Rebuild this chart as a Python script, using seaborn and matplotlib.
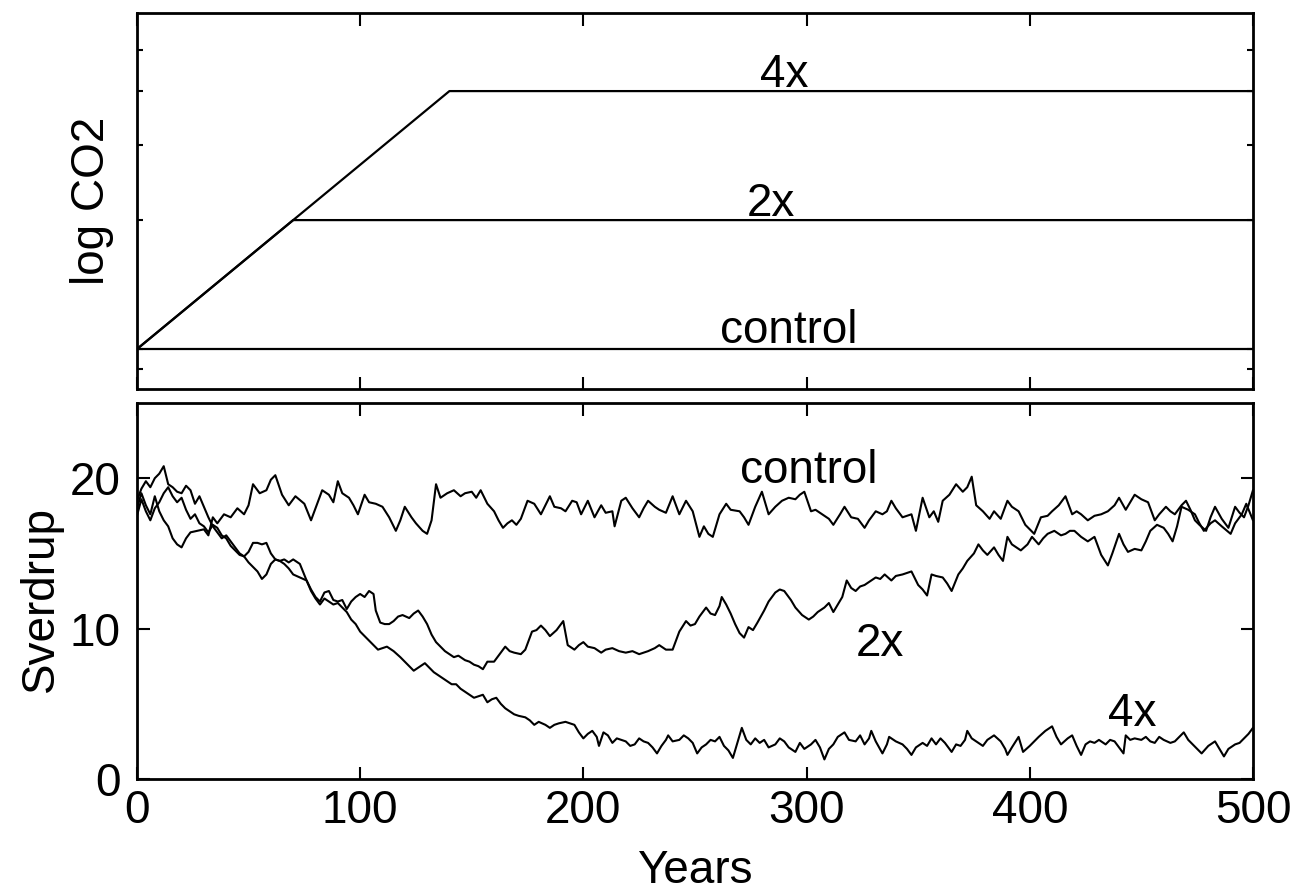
import matplotlib
matplotlib.use("Agg")
import matplotlib.pyplot as plt
import seaborn as sns
import pandas as pd
from matplotlib.ticker import FixedLocator, NullFormatter

# ---------------- data ----------------
# top panel: CO2 scenarios (relative to control), log scale
co2_ctrl_years = [0, 500]
co2_ctrl = [1, 1]
co2_2x_years = [0, 70, 500]
co2_2x = [1, 2, 2]
co2_4x_years = [0, 140, 500]
co2_4x = [1, 4, 4]

# bottom panel: overturning (Sverdrup)
ctrl_years = [0, 2, 4, 6, 8, 10, 12, 14, 16, 18, 20, 22, 24, 27, 30, 32, 34, 36, 39, 42, 45, 48, 50, 52, 55, 58,
              60, 62, 65, 68, 71, 75, 78, 80, 83, 86, 88, 90, 92, 95, 97, 99, 102, 104, 107, 110, 113, 116, 118,
              120, 123, 125, 128, 130, 132, 134, 136, 139, 142, 145, 147, 150, 152, 154, 157, 160, 162, 164, 166,
              168, 170, 172, 175, 178, 181, 183, 185, 187, 190, 192, 195, 197, 199, 202, 205, 208, 210, 213, 214,
              217, 219, 222, 225, 227, 229, 232, 234, 237, 240, 243, 246, 249, 252, 254, 256, 258, 261, 264, 266,
              270, 272, 274, 277, 280, 283, 286, 289, 292, 295, 297, 299, 302, 304, 307, 310, 312, 315, 317, 320,
              323, 326, 328, 331, 334, 336, 338, 340, 343, 345, 347, 349, 352, 355, 357, 359, 361, 364, 367, 370,
              372, 374, 376, 379, 382, 384, 387, 390, 392, 395, 398, 402, 405, 408, 410, 413, 416, 419, 421, 423,
              426, 429, 432, 435, 438, 440, 443, 445, 447, 450, 453, 456, 458, 461, 463, 465, 468, 470, 472, 474,
              476, 479, 481, 483, 486, 489, 492, 494, 496, 498, 500]
ctrl_sv = [18.0, 19.0, 18.2, 17.6, 18.8, 17.8, 17.2, 16.8, 16.0, 15.6, 15.4, 16.0, 16.4, 16.5, 16.6, 16.2, 17.4,
           17.0, 17.6, 17.4, 18.0, 17.6, 18.2, 19.6, 19.0, 19.2, 19.9, 20.2, 18.9, 18.2, 18.8, 18.3, 17.2, 18.0,
           19.2, 18.9, 18.4, 19.8, 19.0, 18.7, 18.2, 17.6, 18.9, 18.4, 18.3, 18.1, 17.4, 16.5, 17.2, 18.1, 17.4,
           17.0, 16.5, 16.3, 17.2, 19.6, 18.7, 19.0, 19.2, 18.8, 19.0, 19.1, 18.7, 19.2, 18.3, 17.8, 17.2, 16.7,
           17.0, 17.2, 16.9, 17.3, 18.5, 18.3, 17.6, 18.2, 18.8, 18.1, 18.0, 17.8, 18.5, 18.4, 17.6, 18.5, 17.4,
           18.2, 17.7, 17.8, 16.8, 18.5, 18.7, 18.0, 17.4, 18.0, 18.5, 18.1, 17.9, 17.7, 18.8, 17.6, 18.5, 17.8,
           16.1, 16.8, 16.3, 16.1, 17.6, 18.3, 17.9, 17.8, 17.4, 16.9, 18.1, 19.1, 17.6, 18.1, 18.5, 18.7, 18.6,
           18.9, 19.1, 17.8, 17.9, 17.6, 17.3, 16.9, 17.6, 18.1, 17.4, 17.3, 16.7, 17.2, 17.8, 17.6, 17.8, 18.5,
           18.0, 17.4, 17.5, 17.6, 16.5, 18.7, 17.4, 17.8, 17.1, 18.5, 18.9, 19.6, 19.1, 19.4, 20.1, 18.2, 17.8,
           17.3, 17.8, 17.3, 18.5, 18.1, 17.8, 16.9, 16.3, 17.4, 17.5, 17.8, 18.2, 18.8, 17.6, 17.8, 17.6, 17.2,
           17.5, 17.6, 17.8, 18.2, 18.7, 17.9, 18.4, 18.9, 18.6, 18.4, 17.2, 17.6, 18.1, 17.8, 17.6, 18.2, 18.5,
           17.9, 17.2, 16.9, 16.5, 17.4, 18.1, 17.3, 16.7, 18.1, 17.7, 17.4, 18.2, 19.2]

x2_years = [0, 2, 4, 6, 8, 10, 12, 14, 16, 18, 20, 22, 24, 26, 28, 30, 32, 34, 36, 38, 40, 42, 44, 46, 48, 50,
            52, 54, 56, 58, 60, 62, 64, 66, 68, 70, 73, 76, 78, 80, 82, 84, 86, 88, 90, 92, 94, 96, 98, 100, 102,
            104, 106, 107, 109, 111, 113, 115, 117, 119, 122, 124, 126, 128, 130, 132, 134, 136, 138, 140, 142,
            144, 147, 149, 151, 153, 155, 157, 160, 162, 165, 167, 169, 172, 174, 177, 179, 181, 183, 185, 188,
            191, 193, 196, 198, 200, 202, 205, 208, 210, 213, 216, 219, 222, 225, 229, 232, 234, 237, 240, 243,
            246, 248, 250, 252, 255, 257, 259, 261, 262, 264, 266, 268, 270, 272, 274, 276, 278, 281, 283, 286,
            288, 290, 293, 295, 298, 301, 303, 305, 308, 310, 312, 314, 316, 318, 320, 322, 324, 326, 328, 331,
            333, 335, 338, 340, 343, 345, 347, 350, 352, 354, 356, 358, 361, 363, 365, 368, 370, 372, 375, 377,
            379, 381, 384, 386, 388, 390, 392, 394, 396, 399, 401, 404, 406, 408, 411, 414, 416, 418, 420, 423,
            426, 429, 432, 435, 437, 440, 442, 444, 447, 450, 452, 454, 457, 460, 462, 464, 466, 468, 471, 474,
            476, 478, 481, 483, 486, 490, 492, 495, 497, 500]
x2_sv = [17.5, 18.6, 17.8, 17.2, 18.0, 18.4, 19.0, 19.4, 18.8, 18.4, 18.7, 17.9, 17.3, 17.6, 17.0, 16.8, 16.4,
         16.9, 16.7, 16.2, 16.0, 15.5, 15.2, 14.9, 14.8, 15.1, 15.7, 15.7, 15.6, 15.7, 15.0, 14.6, 14.5, 14.6,
         14.4, 14.6, 14.3, 13.2, 12.6, 12.1, 11.8, 12.4, 12.5, 11.9, 11.8, 11.9, 11.3, 11.8, 12.1, 12.3, 12.1,
         12.5, 12.3, 11.2, 10.4, 10.3, 10.3, 10.5, 10.8, 10.9, 10.7, 11.0, 11.2, 10.8, 10.3, 9.6, 9.1, 8.8, 8.5,
         8.3, 8.1, 8.2, 7.9, 7.8, 7.6, 7.5, 7.3, 7.8, 7.8, 8.2, 8.8, 8.5, 8.4, 8.3, 8.6, 9.8, 9.9, 10.2, 9.9,
         9.5, 9.9, 10.5, 8.9, 8.6, 8.9, 9.1, 8.8, 8.7, 8.4, 8.6, 8.7, 8.5, 8.4, 8.5, 8.3, 8.5, 8.7, 8.9, 8.6,
         8.6, 9.8, 10.5, 10.2, 10.3, 10.8, 11.4, 11.0, 10.9, 11.5, 12.1, 11.6, 11.0, 10.3, 9.7, 9.4, 10.1, 9.9,
         10.4, 11.2, 11.8, 12.4, 12.6, 12.5, 11.9, 11.4, 10.9, 10.6, 10.8, 11.1, 11.4, 11.7, 11.1, 11.6, 12.1,
         13.2, 12.7, 12.5, 12.8, 12.9, 13.1, 13.4, 13.3, 13.6, 13.2, 13.5, 13.6, 13.7, 13.8, 12.9, 12.6, 12.2,
         13.6, 13.5, 13.4, 13.0, 12.5, 13.6, 14.0, 14.5, 15.0, 15.6, 15.2, 14.9, 15.4, 14.9, 14.5, 16.1, 15.6,
         15.4, 15.2, 15.6, 16.1, 15.6, 16.0, 16.3, 16.5, 16.2, 16.3, 16.5, 16.5, 16.1, 15.8, 16.1, 14.9, 14.2,
         15.0, 16.3, 15.6, 15.1, 15.3, 15.2, 15.8, 16.5, 16.9, 16.7, 16.3, 15.8, 16.8, 18.1, 17.9, 17.6, 17.0,
         16.5, 17.0, 17.2, 16.8, 16.3, 17.0, 17.6, 18.3, 17.2]

x4_years = [0, 2, 4, 6, 8, 10, 12, 14, 16, 18, 20, 22, 24, 26, 28, 30, 32, 34, 36, 38, 40, 42, 44, 46, 48, 50,
            52, 54, 56, 58, 60, 62, 64, 66, 68, 70, 73, 76, 78, 80, 82, 84, 86, 88, 90, 92, 94, 96, 98, 100, 102,
            104, 106, 108, 110, 112, 115, 118, 120, 122, 124, 126, 129, 131, 133, 135, 137, 139, 141, 143, 145,
            147, 149, 151, 153, 155, 157, 159, 161, 163, 165, 167, 169, 171, 174, 176, 178, 180, 183, 185, 187,
            189, 192, 194, 196, 198, 200, 202, 204, 206, 207, 209, 211, 213, 215, 217, 219, 221, 223, 225, 227,
            229, 231, 233, 235, 237, 238, 240, 243, 245, 247, 249, 251, 253, 255, 257, 259, 261, 263, 265, 267,
            269, 271, 273, 275, 277, 279, 281, 283, 286, 288, 290, 292, 295, 297, 299, 302, 304, 306, 308, 310,
            312, 314, 317, 319, 322, 324, 326, 328, 329, 331, 334, 336, 337, 340, 343, 345, 347, 349, 352, 354,
            356, 358, 360, 362, 365, 367, 369, 371, 372, 374, 377, 379, 381, 384, 387, 389, 390, 392, 395, 397,
            400, 402, 404, 407, 410, 412, 414, 417, 419, 421, 423, 425, 427, 429, 431, 434, 436, 438, 440, 442,
            443, 445, 447, 450, 452, 454, 456, 458, 460, 463, 465, 467, 469, 471, 473, 475, 477, 480, 483, 485,
            487, 489, 492, 494, 496, 498, 500]
x4_sv = [18.5, 19.3, 19.8, 19.4, 20.0, 20.3, 20.8, 19.6, 19.4, 19.1, 19.0, 19.5, 19.2, 18.3, 18.8, 18.1, 17.4,
         16.8, 16.4, 16.0, 16.2, 15.8, 15.4, 15.0, 14.8, 14.4, 14.1, 13.8, 13.3, 13.6, 14.3, 14.6, 14.5, 14.3,
         14.0, 13.6, 13.4, 13.2, 12.5, 12.0, 11.6, 12.0, 11.8, 11.6, 11.7, 11.4, 11.1, 10.6, 10.3, 9.8, 9.5, 9.2,
         8.9, 8.6, 8.7, 8.8, 8.5, 8.1, 7.8, 7.5, 7.2, 7.4, 7.7, 7.4, 7.1, 6.9, 6.7, 6.5, 6.3, 6.3, 6.0, 5.8, 5.6,
         5.4, 5.5, 5.6, 5.1, 5.3, 5.4, 5.0, 4.7, 4.5, 4.3, 4.2, 4.1, 3.9, 3.6, 3.8, 3.6, 3.4, 3.6, 3.7, 3.8, 3.7,
         3.6, 3.1, 2.7, 3.0, 3.2, 2.8, 2.2, 3.1, 2.9, 2.4, 2.7, 2.6, 2.5, 2.2, 2.3, 2.7, 2.5, 2.4, 2.1, 1.7, 2.2,
         2.6, 2.9, 2.5, 2.6, 2.9, 2.7, 2.4, 1.7, 2.1, 2.3, 2.6, 2.5, 2.8, 2.2, 1.9, 1.4, 2.4, 3.4, 2.6, 2.3, 2.7,
         2.4, 2.6, 2.1, 2.3, 2.7, 2.5, 2.1, 1.8, 2.4, 2.0, 2.3, 2.6, 2.1, 1.3, 2.0, 2.3, 2.8, 3.1, 2.6, 2.5, 2.9,
         2.3, 2.7, 3.2, 2.5, 1.7, 2.3, 2.8, 2.5, 2.3, 2.0, 1.6, 2.1, 2.4, 2.2, 2.7, 2.3, 2.7, 2.4, 1.8, 2.3, 2.2,
         2.6, 3.2, 2.7, 2.4, 2.2, 2.6, 2.9, 2.5, 2.0, 1.6, 2.1, 2.8, 1.8, 2.2, 2.5, 2.8, 3.2, 3.5, 2.8, 2.3, 2.7,
         2.9, 2.2, 1.6, 2.3, 2.5, 2.4, 2.6, 2.3, 2.6, 2.5, 2.1, 1.7, 2.9, 2.6, 2.7, 2.6, 2.8, 2.5, 2.4, 2.8, 2.6,
         2.4, 2.5, 2.8, 3.1, 2.6, 2.3, 2.0, 1.7, 2.2, 2.5, 2.0, 1.5, 2.0, 2.3, 2.4, 2.7, 3.0, 3.4]

labels_top = ["control", "2x", "4x"]
xticks = [0, 100, 200, 300, 400, 500]
yticks_bottom = [0, 10, 20]

# ---------------- style ----------------
sns.set_style("white")
plt.rcParams['font.family'] = ['Liberation Sans', 'DejaVu Sans']
plt.rcParams.update({
    'axes.linewidth': 2.0, 'axes.edgecolor': 'black', 'text.color': 'black',
    'axes.labelcolor': 'black', 'xtick.color': 'black', 'ytick.color': 'black',
})
FS = 33

fig = plt.figure(figsize=(12.98, 8.92), dpi=100)
ax1 = fig.add_axes([0.1055, 0.5639, 0.8598, 0.4210])
ax2 = fig.add_axes([0.1055, 0.1267, 0.8598, 0.4215])

# ---------------- top panel ----------------
df_top = pd.concat([
    pd.DataFrame({"year": co2_ctrl_years, "co2": co2_ctrl, "run": "control"}),
    pd.DataFrame({"year": co2_2x_years, "co2": co2_2x, "run": "2x"}),
    pd.DataFrame({"year": co2_4x_years, "co2": co2_4x, "run": "4x"}),
])
sns.lineplot(data=df_top, x="year", y="co2", hue="run", palette=["black"] * 3,
             estimator=None, sort=False, legend=False, linewidth=1.6, ax=ax1)
ax1.set_yscale("log")
ax1.set_xlim(0, 500)
ax1.set_ylim(0.807, 6.07)
ax1.xaxis.set_major_locator(FixedLocator(xticks))
ax1.xaxis.set_major_formatter(NullFormatter())
ax1.yaxis.set_major_locator(FixedLocator([1]))
ax1.yaxis.set_minor_locator(FixedLocator([0.9, 2, 3, 4, 5]))
ax1.yaxis.set_major_formatter(NullFormatter())
ax1.yaxis.set_minor_formatter(NullFormatter())
ax1.tick_params(axis="x", which="major", direction="in", length=9, width=1.5, top=True, bottom=True)
ax1.tick_params(axis="y", which="both", direction="in", length=4, width=1.5, left=True, right=True)
ax1.set_xlabel("")
ax1.set_ylabel("log CO2", fontsize=FS)
ax1.yaxis.set_label_coords(-0.021, 0.5)

top_text = {"4x": (290, 4), "2x": (284, 2), "control": (292, 1)}
for t, (xx, yy) in top_text.items():
    off = 6 if t == "control" else 4
    ax1.annotate(t, xy=(xx, yy), xytext=(0, off), textcoords="offset pixels",
                 ha="center", va="baseline", fontsize=FS)

# ---------------- bottom panel ----------------
df_bot = pd.concat([
    pd.DataFrame({"year": ctrl_years, "sv": ctrl_sv, "run": "control"}),
    pd.DataFrame({"year": x2_years, "sv": x2_sv, "run": "2x"}),
    pd.DataFrame({"year": x4_years, "sv": x4_sv, "run": "4x"}),
])
sns.lineplot(data=df_bot, x="year", y="sv", hue="run", palette=["black"] * 3,
             estimator=None, sort=False, legend=False, linewidth=1.5, ax=ax2)
ax2.set_xlim(0, 500)
ax2.set_ylim(0, 25)
ax2.set_xticks(xticks)
ax2.set_xticklabels([str(v) for v in xticks], fontsize=FS)
ax2.set_yticks(yticks_bottom)
ax2.set_yticklabels([str(v) for v in yticks_bottom], fontsize=FS)
ax2.tick_params(axis="both", which="major", direction="in", length=9, width=1.5,
                top=True, bottom=True, left=True, right=True)
ax2.tick_params(axis="x", pad=7)
ax2.tick_params(axis="y", pad=12)
ax2.set_xlabel("Years", fontsize=FS)
ax2.xaxis.set_label_coords(0.5, -0.185)
ax2.set_ylabel("Sverdrup", fontsize=FS)
ax2.yaxis.set_label_coords(-0.066, 0.48)

bot_text = {"control": (301, 19.7), "2x": (333, 8.2), "4x": (446, 3.5)}
for t, (xx, yy) in bot_text.items():
    ax2.text(xx, yy, t, ha="center", va="baseline", fontsize=FS)

fig.savefig("out.png", dpi=100)
